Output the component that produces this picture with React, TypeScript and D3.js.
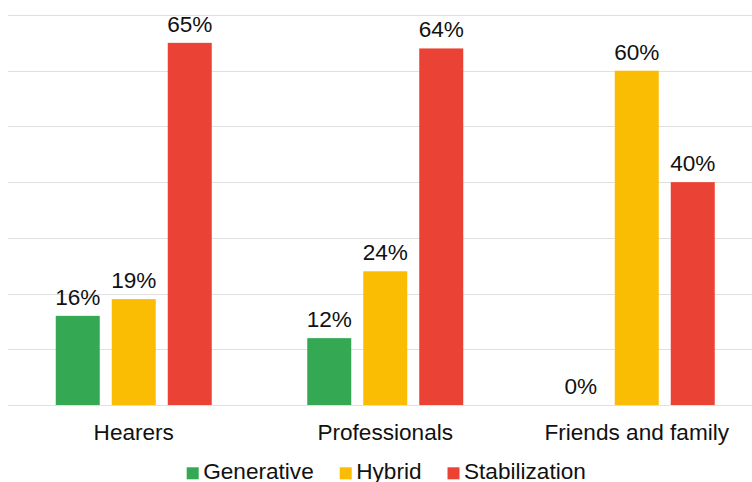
import React from "react";
import * as d3 from "d3";

// Share of each strategy by listener group (percent)
const categories = ["Hearers", "Professionals", "Friends and family"];
const seriesNames = ["Generative", "Hybrid", "Stabilization"];
const generative = [16, 12, 0];
const hybrid = [19, 24, 60];
const stabilization = [65, 64, 40];
const yTicks = [0, 10, 20, 30, 40, 50, 60, 70];
const colors = ["#34a853", "#fbbc04", "#ea4335"];

const W = 752;
const H = 482;
const FONT = "'Liberation Sans', Arial, sans-serif";
const FS = 22.6;

function measure(text: string): number {
  const c = document.createElement("canvas").getContext("2d");
  if (!c) return text.length * FS * 0.55;
  c.font = `${FS}px ${FONT}`;
  return c.measureText(text).width;
}

export default function App() {
  const values = [generative, hybrid, stabilization];
  const plotLeft = 8;
  const plotRight = 762.5;
  const y = d3.scaleLinear().domain([0, 70]).range([405, 15]);
  const x0 = d3.scaleBand<string>().domain(categories).range([plotLeft, plotRight]).padding(0);
  const inner = 47.75;
  const x1 = d3
    .scaleBand<string>()
    .domain(seriesNames)
    .range([inner, x0.bandwidth() - inner])
    .paddingInner(12 / 56)
    .paddingOuter(0);

  // legend layout: swatch, gap, label, spacing
  const sw = 12;
  let lx = 186.7;
  const legend = seriesNames.map((name, i) => {
    const item = { name, x: lx, color: colors[i] };
    lx += sw + 4.5 + measure(name) + 26;
    return item;
  });

  return (
    <svg
      width={W}
      height={H}
      style={{ position: "absolute", left: 0, top: 0, background: "#fff" }}
      fontFamily={FONT}
    >
      {yTicks.map((t) => (
        <line
          key={t}
          x1={plotLeft}
          x2={W}
          y1={Math.round(y(t)) + 0.5}
          y2={Math.round(y(t)) + 0.5}
          stroke="#e0e0e0"
          strokeWidth={1}
        />
      ))}
      {categories.map((cat, ci) => (
        <g key={cat} transform={`translate(${x0(cat)},0)`}>
          {seriesNames.map((s, si) => {
            const v = values[si][ci];
            const bx = x1(s)!;
            return (
              <g key={s}>
                {v > 0 && (
                  <rect x={bx} y={y(v)} width={x1.bandwidth()} height={y(0) - y(v)} fill={colors[si]} />
                )}
                <text
                  x={bx + x1.bandwidth() / 2}
                  y={y(v) - 11}
                  textAnchor="middle"
                  fontSize={FS}
                  fill="#111"
                >
                  {`${v}%`}
                </text>
              </g>
            );
          })}
          <text x={x0.bandwidth() / 2} y={440} textAnchor="middle" fontSize={FS} fill="#111">
            {cat}
          </text>
        </g>
      ))}
      {legend.map((l) => (
        <g key={l.name}>
          <rect x={l.x} y={467.3} width={sw} height={sw} fill={l.color} />
          <text x={l.x + sw + 4.5} y={479.3} fontSize={FS} fill="#111">
            {l.name}
          </text>
        </g>
      ))}
    </svg>
  );
}
